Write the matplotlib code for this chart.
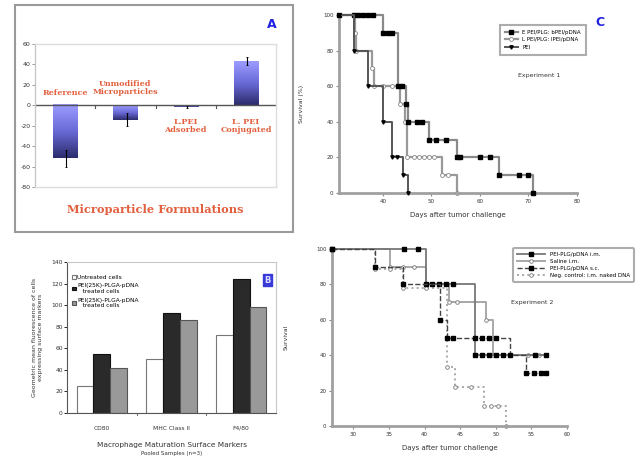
import matplotlib
matplotlib.use("Agg")
import matplotlib.pyplot as plt
import numpy as np
from matplotlib.colors import LinearSegmentedColormap
from matplotlib.patches import Rectangle

W, H = 636, 457

# ---------------- Data ----------------
# Panel A: zeta potential of microparticle formulations
a_categories = ['Reference', 'Unmodified\nMicroparticles', 'L.PEI\nAdsorbed', 'L. PEI\nConjugated']
a_values = [-52, -14, -1.5, 43]
a_errors = [8, 6, 1, 4]
a_yticks = [-80, -60, -40, -20, 0, 20, 40, 60]

# Panel B: macrophage maturation markers
b_categories = ['CD80', 'MHC Class II', 'F4/80']
b_untreated = [25, 50, 72]
b_pei1 = [55, 93, 124]
b_pei2 = [42, 86, 98]
b_labels = ['Untreated cells', 'PEI(25K)-PLGA-pDNA\n   treated cells', 'PEI(25K)-PLGA-pDNA\n   treated cells']

# Panel C: survival, experiment 1
c_epei_t = [31, 34, 35, 36, 37, 38, 40, 41, 42, 43.1, 44, 44.8, 45.2, 47, 48, 49.5, 51, 53, 55.3, 56, 60, 62, 64, 68, 70, 71]
c_epei_s = [100, 100, 100, 100, 100, 100, 90, 90, 90, 60, 60, 50, 40, 40, 40, 30, 30, 30, 20, 20, 20, 20, 10, 10, 10, 0]
c_lpei_t = [31, 34.2, 34.5, 37.7, 38.2, 40, 42, 43.5, 44.5, 45, 46.5, 47.5, 48.5, 49.5, 50.5, 52.2, 53.5, 55.3]
c_lpei_s = [100, 90, 80, 70, 60, 60, 60, 50, 40, 20, 20, 20, 20, 20, 20, 10, 10, 0]
c_pei_t = [31, 34.0, 36.9, 40, 41.9, 43, 44.1, 45.2]
c_pei_s = [100, 80, 60, 40, 20, 20, 10, 0]
c_labels = ['E PEI/PLG: bPEI/pDNA', 'L PEI/PLG: lPEI/pDNA', 'PEI']
c_xticks = [40, 50, 60, 70, 80]

# Panel D: survival, experiment 2
d_im_t = [27, 37.1, 39.1, 40.2, 41, 42, 43, 44, 47.1, 48, 49, 50, 51, 55.5, 57]
d_im_s = [100, 100, 100, 80, 80, 80, 80, 80, 40, 40, 40, 40, 40, 40, 40]
d_sal_t = [27, 35.2, 36.9, 38.5, 40.2, 43.4, 44.5, 48.6, 49.6, 54.5, 56, 57]
d_sal_s = [100, 90, 90, 90, 80, 70, 70, 60, 40, 40, 40, 40]
d_sc_t = [27, 33.1, 36.9, 42.2, 43.1, 44, 47.1, 48, 49, 50, 52, 54.3, 55.3, 56.3, 57]
d_sc_s = [100, 90, 80, 60, 50, 50, 50, 50, 50, 50, 40, 30, 30, 30, 30]
d_neg_t = [27, 33.1, 35.2, 36.9, 40.2, 43.1, 44.3, 46.5, 48.3, 49.3, 50.3, 51.4]
d_neg_s = [100, 88.9, 88.9, 77.8, 77.8, 33.3, 22.2, 22.2, 11.1, 11.1, 11.1, 0]
d_labels = ['PEI-PLG/pDNA i.m.', 'Saline i.m.', 'PEI-PLG/pDNA s.c.', 'Neg. control: i.m. naked DNA']
d_xticks = [30, 35, 40, 45, 50, 55, 60]

surv_yticks = [0, 20, 40, 60, 80, 100]


def rect(x0, y0, x1, y1):
    return [x0 / W, 1 - y1 / H, (x1 - x0) / W, (y1 - y0) / H]


fig = plt.figure(figsize=(W / 100, H / 100), dpi=100)
fig.patch.set_facecolor('white')

# ---------------- Panel A ----------------
frame = Rectangle((15 / W, 1 - 232 / H), 278 / W, 227 / H, transform=fig.transFigure,
                  fill=False, edgecolor='#9a9a9a', linewidth=1.5)
fig.add_artist(frame)

axA = fig.add_axes(rect(35, 44, 276, 187))
cmap = LinearSegmentedColormap.from_list('g', ['#9c9cff', '#6a6ad8', '#2c2c6c'])
grad = np.linspace(0, 1, 100).reshape(-1, 1)
bw = 0.4
for i, (v, e) in enumerate(zip(a_values, a_errors)):
    lo, hi = min(0, v), max(0, v)
    axA.imshow(grad, cmap=cmap, extent=[i - bw / 2, i + bw / 2, lo, hi], aspect='auto',
               origin='upper', zorder=2)
    axA.errorbar(i + 0.02, v, yerr=e, color='black', capsize=1, elinewidth=0.8, capthick=0.6, zorder=3)
axA.set_xlim(-0.5, 3.5)
axA.set_ylim(-80, 60)
axA.set_aspect('auto')
axA.axhline(0, color='#555555', lw=1, zorder=2.5)
for xb in [0.5, 1.5, 2.5]:
    axA.plot([xb, xb], [0, -3], color='#555555', lw=0.8)
axA.set_yticks(a_yticks)
axA.set_yticklabels([str(t) for t in a_yticks], fontsize=4.5, color='#333333')
axA.set_xticks([])
for s in axA.spines.values():
    s.set_color('#dddddd')
    s.set_linewidth(1)
axA.spines['left'].set_color('#c8c8c8')
axA.tick_params(axis='y', length=2, width=0.6, color='#888888', pad=1)
red = '#e2603e'
lab_y = [12, 17, -20, -20]
for i, (lab, ly) in enumerate(zip(a_categories, lab_y)):
    axA.text(i, ly, lab, ha='center', va='center', fontsize=5.8, color=red,
             family='DejaVu Serif', fontweight='bold', linespacing=1.0)
fig.text(155 / W, 1 - 210 / H, 'Microparticle Formulations', ha='center', va='center',
         fontsize=8.2, color=red, family='DejaVu Serif', fontweight='bold')
fig.text(272 / W, 1 - 24 / H, 'A', ha='center', va='center', fontsize=9,
         color='#2020e0', fontweight='bold')

# ---------------- Panel B ----------------
axB = fig.add_axes(rect(67, 262, 276, 413))
xb = np.arange(len(b_categories))
wb = 0.24
axB.bar(xb - wb, b_untreated, wb, color='white', edgecolor='#777777', linewidth=0.8, label=b_labels[0])
axB.bar(xb, b_pei1, wb, color='#2a2a2a', edgecolor='#111111', linewidth=0.8, label=b_labels[1])
axB.bar(xb + wb, b_pei2, wb, color='#999999', edgecolor='#555555', linewidth=0.8, label=b_labels[2])
axB.set_xlim(-0.5, 2.5)
axB.set_ylim(0, 140)
axB.set_yticks(range(0, 141, 20))
axB.set_yticklabels([str(t) for t in range(0, 141, 20)], fontsize=4.3, color='#333333')
axB.set_xticks(xb)
axB.set_xticklabels(b_categories, fontsize=4.3, color='#333333')
axB.tick_params(axis='x', length=0, pad=9)
axB.tick_params(axis='y', length=2, width=0.6, pad=1)
for s in axB.spines.values():
    s.set_color('#c8c8c8')
axB.spines['left'].set_color('#555555')
axB.spines['bottom'].set_color('#555555')
for xt in [0.5, 1.5]:
    axB.plot([xt, xt], [0, -2], color='#555555', lw=0.6, clip_on=False)
leg = axB.legend(loc='upper left', fontsize=4.2, frameon=False, handlelength=0.6,
                 handleheight=0.6, handletextpad=0.2, labelspacing=0.6,
                 bbox_to_anchor=(0.0, 0.95))
axB.set_ylabel('Geometric mean fluorescence of cells\nexpressing surface markers', fontsize=4.5,
               color='#333333', labelpad=6)
fig.text(172 / W, 1 - 445 / H, 'Macrophage Maturation Surface Markers', ha='center', va='center',
         fontsize=5.3, color='#333333')
fig.text(172 / W, 1 - 454 / H, 'Pooled Samples (n=3)', ha='center', va='center',
         fontsize=4.0, color='#333333')
axB.text(0.96, 0.88, 'B', transform=axB.transAxes, ha='center', va='center', fontsize=6,
         color='#ddddff', fontweight='bold',
         bbox=dict(boxstyle='square,pad=0.15', facecolor='#3a3ad8', edgecolor='#3a3ad8'))


def surv_axes(ax, xticks, xlim):
    ax.set_xlim(*xlim)
    ax.set_ylim(0, 100)
    ax.set_xticks(xticks)
    ax.set_xticklabels([str(t) for t in xticks], fontsize=4, color='#333333')
    ax.set_yticks(surv_yticks)
    ax.set_yticklabels([str(t) for t in surv_yticks], fontsize=4, color='#333333')
    ax.spines['top'].set_visible(False)
    ax.spines['right'].set_visible(False)
    ax.spines['left'].set_color('#a0a0a0')
    ax.spines['bottom'].set_color('#a0a0a0')
    ax.spines['left'].set_linewidth(2)
    ax.spines['bottom'].set_linewidth(2)
    ax.tick_params(length=2, width=0.8, color='#888888', pad=2)
    ax.set_xlabel('Days after tumor challenge', fontsize=5, color='#333333', labelpad=6)


# ---------------- Panel C ----------------
axC = fig.add_axes(rect(339, 15, 577, 193))
axC.plot(c_lpei_t, c_lpei_s, drawstyle='steps-post', color='#999999', lw=1.6,
         marker='o', ms=2.8, mfc='white', mec='#888888', mew=0.6, clip_on=False,
         label=c_labels[1], zorder=2)
axC.plot(c_epei_t, c_epei_s, drawstyle='steps-post', color='#8a8a8a', lw=1.6,
         marker='s', ms=2.6, mfc='black', mec='black', clip_on=False, label=c_labels[0], zorder=3)
axC.plot(c_pei_t, c_pei_s, drawstyle='steps-post', color='#555555', lw=1.4,
         marker='v', ms=2.4, mfc='black', mec='black', clip_on=False, label=c_labels[2], zorder=3)
surv_axes(axC, c_xticks, (31, 80))
axC.set_ylabel('Survival (%)', fontsize=4.5, color='#333333', labelpad=14)
h, l = axC.get_legend_handles_labels()
legC = axC.legend([h[1], h[0], h[2]], [l[1], l[0], l[2]], loc='upper right',
                  bbox_to_anchor=(1.05, 0.96), fontsize=4.0, frameon=True, fancybox=False,
                  handlelength=2.4, labelspacing=0.45, borderpad=0.9)
legC.get_frame().set_edgecolor('#999999')
legC.get_frame().set_linewidth(1.5)
axC.text(0.84, 0.66, 'Experiment 1', transform=axC.transAxes, fontsize=4.5, color='#333333',
         ha='center', va='center')
fig.text(600 / W, 1 - 22 / H, 'C', ha='center', va='center', fontsize=9,
         color='#2020e0', fontweight='bold')

# ---------------- Panel D ----------------
axD = fig.add_axes(rect(332, 249, 567, 426))
axD.plot(d_sal_t, d_sal_s, drawstyle='steps-post', color='#a8a8a8', lw=1.4, ls='-',
         marker='o', ms=2.6, mfc='white', mec='#777777', mew=0.6, clip_on=False,
         label=d_labels[1], zorder=2)
axD.plot(d_neg_t, d_neg_s, drawstyle='steps-post', color='#a8a8a8', lw=1.4, ls=':',
         marker='o', ms=2.6, mfc='white', mec='#777777', mew=0.6, clip_on=False,
         label=d_labels[3], zorder=2)
axD.plot(d_im_t, d_im_s, drawstyle='steps-post', color='#777777', lw=1.3, ls='-',
         marker='s', ms=2.4, mfc='black', mec='black', clip_on=False, label=d_labels[0], zorder=3)
axD.plot(d_sc_t, d_sc_s, drawstyle='steps-post', color='#444444', lw=1.0, ls='--',
         marker='s', ms=2.2, mfc='black', mec='black', clip_on=False, label=d_labels[2], zorder=3)
surv_axes(axD, d_xticks, (27, 60))
axD.set_ylabel('Survival', fontsize=4.5, color='#333333', labelpad=20)
h, l = axD.get_legend_handles_labels()
order = [2, 0, 3, 1]
legD = axD.legend([h[i] for i in order], [l[i] for i in order], loc='upper right',
                  bbox_to_anchor=(1.295, 1.02), fontsize=4.0, frameon=True, fancybox=True,
                  handlelength=5.0, labelspacing=0.35, borderpad=0.7)
legD.get_frame().set_edgecolor('#999999')
legD.get_frame().set_linewidth(1.5)
axD.text(0.85, 0.70, 'Experiment 2', transform=axD.transAxes, fontsize=4.5, color='#333333',
         ha='center', va='center')

fig.savefig('out.png', dpi=100, facecolor='white')
